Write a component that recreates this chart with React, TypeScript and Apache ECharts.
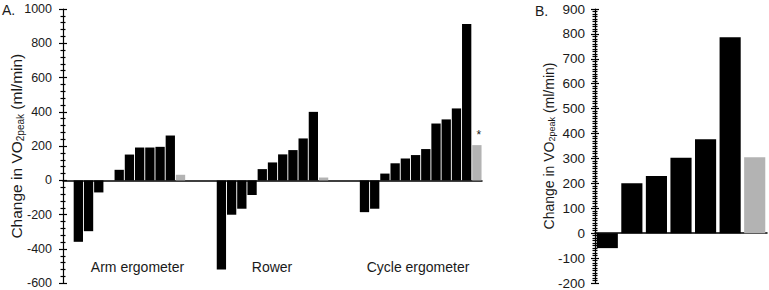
import React, { useEffect, useRef } from "react";
import * as echarts from "echarts";

// Panel A: change in VO2peak per participant (ml/min)
const armValues = [-358, -296, -70, 0, 62, 151, 192, 192, 196, 262];
const armMean = 33;
const rowerValues = [-520, -200, -165, -85, 66, 105, 152, 177, 245, 400];
const rowerMean = 17;
const cycleValues = [-185, -165, 40, 100, 128, 148, 183, 332, 356, 420, 912];
const cycleMean = 206;
const groupNames = ["Arm ergometer", "Rower", "Cycle ergometer"];
const leadingEmptySlots = [1, 3, 3];

// Panel B
const bValues = [-60, 200, 230, 303, 377, 787];
const bMean = 305;

const FONT = "'Liberation Sans', Arial, sans-serif";
const BLACK = "#000000";
const GREY = "#b3b3b3";
const TEXT = "#1a1a1a";

export default function App() {
  const ref = useRef<HTMLDivElement>(null);

  useEffect(() => {
    const chart = echarts.init(ref.current!, null, { renderer: "svg" });

    const groups = [
      { values: armValues, mean: armMean },
      { values: rowerValues, mean: rowerMean },
      { values: cycleValues, mean: cycleMean, star: true },
    ];
    const leftCats: string[] = [];
    const leftData: any[] = [];
    groups.forEach((g, gi) => {
      for (let i = 0; i < leadingEmptySlots[gi]; i++) {
        leftCats.push(`e${gi}-${i}`);
        leftData.push("-");
      }
      g.values.forEach((v, i) => {
        leftCats.push(`${groupNames[gi]}-${i}`);
        leftData.push({ value: v, itemStyle: { color: BLACK } });
      });
      leftCats.push(`${groupNames[gi]}-mean`);
      leftData.push({
        value: g.mean,
        itemStyle: { color: GREY },
        label: g.star
          ? {
              show: true,
              formatter: "*",
              position: "top",
              distance: 4,
              offset: [2, 0],
              fontSize: 12,
              color: TEXT,
              fontFamily: FONT,
            }
          : { show: false },
      });
    });

    const rightCats = bValues.map((_, i) => `p${i}`).concat(["mean"]);
    const rightData: any[] = bValues
      .map((v) => ({ value: v, itemStyle: { color: BLACK } }))
      .concat([{ value: bMean, itemStyle: { color: GREY } }]);

    const lineStyle = { color: BLACK, width: 1.2 };
    const nameStyle = (fs: number) => ({
      fontSize: fs,
      color: TEXT,
      fontFamily: FONT,
      rich: {
        sub: {
          fontSize: Math.round(fs * 0.62),
          fontFamily: FONT,
          color: TEXT,
          verticalAlign: "bottom",
          padding: [Math.round(fs * 0.42), 0, 0, 0],
        },
      },
    });

    const yPair = (
      gridIndex: number,
      min: number,
      max: number,
      interval: number,
      minorSplit: number,
      nameGap: number,
      margin: number,
      labelSize: number,
      nameSize: number
    ) => [
      {
        type: "value",
        gridIndex,
        min,
        max,
        interval,
        position: "left",
        axisLine: { show: true, onZero: false, lineStyle },
        axisTick: { show: true, length: 4, lineStyle },
        minorTick: { show: true, splitNumber: minorSplit, length: 2.5, lineStyle },
        splitLine: { show: false },
        minorSplitLine: { show: false },
        axisLabel: {
          margin,
          fontSize: labelSize,
          color: TEXT,
          fontFamily: FONT,
          formatter: (v: number) => String(v),
        },
        name: "Change in VO{sub|2peak} (ml/min)",
        nameLocation: "middle",
        nameRotate: 90,
        nameGap,
        nameMoveOverlap: false,
        nameTextStyle: nameStyle(nameSize),
      },
      {
        type: "value",
        gridIndex,
        min,
        max,
        interval,
        position: "left",
        offset: 0,
        axisLine: { show: false, onZero: false },
        axisTick: { show: true, inside: true, length: 4, lineStyle },
        minorTick: { show: true, splitNumber: minorSplit, length: 2.5, lineStyle },
        splitLine: { show: false },
        axisLabel: { show: false },
      },
    ];

    chart.setOption({
      animation: false,
      grid: [
        { left: 63, right: 287, top: 9, bottom: 6.7, outerBoundsMode: "none", containLabel: false },
        { left: 595, right: 2, top: 9, bottom: 7, outerBoundsMode: "none", containLabel: false },
      ],
      xAxis: [
        {
          type: "category",
          gridIndex: 0,
          data: leftCats,
          axisLine: { show: true, onZero: true, onZeroAxisIndex: 0, lineStyle: { color: BLACK, width: 1.5 } },
          axisTick: { show: false },
          axisLabel: { show: false },
        },
        {
          type: "category",
          gridIndex: 1,
          data: rightCats,
          axisLine: { show: true, onZero: true, onZeroAxisIndex: 2, lineStyle: { color: BLACK, width: 1.5 } },
          axisTick: { show: false },
          axisLabel: { show: false },
        },
      ],
      yAxis: [
        ...yPair(0, -600, 1000, 200, 5, 38, 11, 12.5, 15.5),
        ...yPair(1, -200, 900, 100, 10, 39, 10, 13.5, 14),
      ],
      series: [
        {
          type: "bar",
          xAxisIndex: 0,
          yAxisIndex: 0,
          data: leftData,
          barCategoryGap: "9%",
        },
        {
          type: "bar",
          xAxisIndex: 1,
          yAxisIndex: 2,
          data: rightData,
          barCategoryGap: "14%",
        },
      ],
      graphic: [
        { type: "text", left: 2, top: 3, style: { text: "A.", fontSize: 14, fill: TEXT, fontFamily: FONT } },
        { type: "text", left: 535, top: 4, style: { text: "B.", fontSize: 14, fill: TEXT, fontFamily: FONT } },
        ...groupNames.map((n, i) => ({
          type: "text",
          x: [137.5, 272, 418][i],
          y: 267,
          style: {
            text: n,
            fontSize: 14,
            fill: TEXT,
            fontFamily: FONT,
            align: "center",
            verticalAlign: "middle",
          },
        })),
      ],
    });

    return () => chart.dispose();
  }, []);

  return (
    <div
      ref={ref}
      style={{ position: "absolute", left: 0, top: 0, width: 769, height: 290 }}
    />
  );
}
